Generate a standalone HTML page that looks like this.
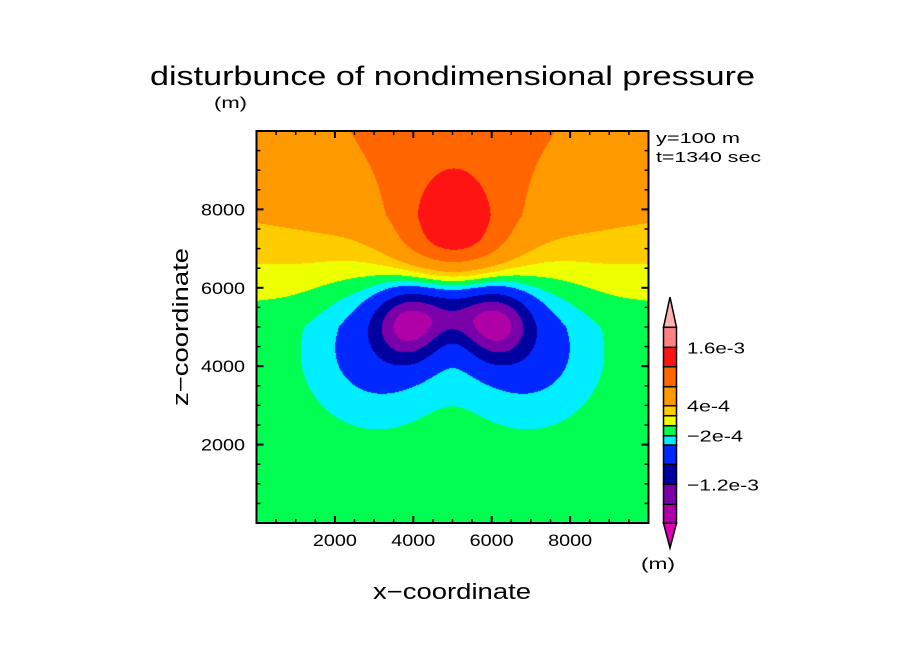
<!DOCTYPE html>
<html><head><meta charset="utf-8"><style>
html,body{margin:0;padding:0;background:#fff;}
#wrap{position:relative;width:904px;height:654px;overflow:hidden;background:#fff;}
canvas{position:absolute;left:0;top:0;}
svg{position:absolute;left:0;top:0;}
text{font-family:"Liberation Sans",sans-serif;fill:#000;}
</style></head><body>
<div id="wrap">
<canvas id="cv" width="904" height="654"></canvas>
<svg id="sv" width="904" height="654">
<text x="150" y="85" font-size="27" textLength="605" lengthAdjust="spacingAndGlyphs">disturbunce of nondimensional pressure</text>
<text x="214" y="108" font-size="16" textLength="33" lengthAdjust="spacingAndGlyphs">(m)</text>
<text x="656" y="143" font-size="15" textLength="84" lengthAdjust="spacingAndGlyphs">y=100 m</text>
<text x="656" y="162" font-size="15" textLength="105" lengthAdjust="spacingAndGlyphs">t=1340 sec</text>
<text x="373" y="599" font-size="22" textLength="158" lengthAdjust="spacingAndGlyphs">x−coordinate</text>
<text x="0" y="0" font-size="22" text-anchor="middle" textLength="158" lengthAdjust="spacingAndGlyphs" transform="translate(188,327) rotate(-90)">z−coordinate</text>
<text x="641" y="569" font-size="16" textLength="34" lengthAdjust="spacingAndGlyphs">(m)</text>
<g id="axes"></g>
<g id="cbar"></g>
</svg>
</div>
<script>
// Axis ticks (m)
const xTicks=[2000,4000,6000,8000];
const zTicks=[2000,4000,6000,8000];
// contour levels & colours
const levels=[-2e-3,-1.6e-3,-1.2e-3,-8e-4,-4e-4,-2e-4,0,2e-4,4e-4,8e-4,1.2e-3,1.6e-3,2e-3];
const colors=["#e000b8","#b000a8","#7a00aa","#0000a0","#0028ff","#00eeff","#00ff50","#eeff00","#ffcc00","#ff9900","#ff6600","#ff1414","#ff8080","#ffb0b0"];
const cbarLabels=["1.6e-3","4e-4","\u22122e-4","\u22121.2e-3"];
const cbarLabelVals=[1.6e-3,4e-4,-2e-4,-1.2e-3];
const cbarLabelW=[58,43,56,72];
// background vertical profile
const profZ=[0,5000,5700,6700,7850,10000];
const profV=[-1e-4,-1e-4,0,2e-4,4e-4,5e-4];
// anomaly components: centre x, centre z, sigma x, sigma z (above / below), amplitude
const compX=[5000,5050,3900,6100,3100,6900,5000];
const compZ=[11000,7300,5050,5050,4500,4500,5300];
const compSX=[2400,990,600,600,1150,1150,700];
const compSZup=[3000,1150,620,620,1400,1400,600];
const compSZdn=[3000,650,620,620,1200,1200,400];
const compA=[5.7e-4,9e-4,-1.35e-3,-1.35e-3,-5e-4,-5e-4,-6.5e-4];

const PL=256.5,PR=648.5,PT=131,PB=523;
const sx=x=>PL+(x/10000)*(PR-PL);
const sz=z=>PB-(z/10000)*(PB-PT);
function bg(z){for(let i=0;i<profZ.length-1;i++){if(z<=profZ[i+1]){const t=(z-profZ[i])/(profZ[i+1]-profZ[i]);return profV[i]+t*(profV[i+1]-profV[i]);}}return profV[profV.length-1];}
function field(x,z){let v=bg(z);for(let i=0;i<compA.length;i++){const dx=(x-compX[i])/compSX[i];const s=z>=compZ[i]?compSZup[i]:compSZdn[i];const dz=(z-compZ[i])/s;v+=compA[i]*Math.exp(-0.5*(dx*dx+dz*dz));}return v;}
function colorFor(v){let k=0;while(k<levels.length&&v>=levels[k])k++;return colors[k];}
function hex(c){return[parseInt(c.substr(1,2),16),parseInt(c.substr(3,2),16),parseInt(c.substr(5,2),16)];}
const cv=document.getElementById('cv'),ctx=cv.getContext('2d');
const x0=Math.round(PL),x1=Math.round(PR),y0=Math.round(PT),y1=Math.round(PB);
const img=ctx.createImageData(x1-x0,y1-y0);
for(let py=y0;py<y1;py++){for(let px=x0;px<x1;px++){
 const x=(px+0.5-PL)/(PR-PL)*10000,z=(PB-(py+0.5))/(PB-PT)*10000;
 const c=hex(colorFor(field(x,z)));const o=((py-y0)*(x1-x0)+(px-x0))*4;
 img.data[o]=c[0];img.data[o+1]=c[1];img.data[o+2]=c[2];img.data[o+3]=255;}}
ctx.putImageData(img,x0,y0);

const NS="http://www.w3.org/2000/svg";
const ax=document.getElementById('axes');
function mk(tag,attrs,parent){const e=document.createElementNS(NS,tag);for(const k in attrs)e.setAttribute(k,attrs[k]);parent.appendChild(e);return e;}
let fr=mk('rect',{x:PL,y:PT,width:PR-PL,height:PB-PT,fill:'none',stroke:'#000','stroke-width':2},ax);


for(let v=500;v<10000;v+=500){
 const major=v%2000===0,L=major?7:4;
 const X=sx(v),Z=sz(v);
 [[X,PB,X,PB-L],[X,PT,X,PT+L],[PL,Z,PL+L,Z],[PR,Z,PR-L,Z]].forEach(s=>{
  const t=mk('line',{x1:s[0],y1:s[1],x2:s[2],y2:s[3],stroke:'#000','stroke-width':major?2:1.5},ax);
  
  
 });
}
xTicks.forEach(v=>{const t=mk('text',{x:sx(v),y:546,'font-size':17,'text-anchor':'middle',textLength:44,lengthAdjust:'spacingAndGlyphs'},ax);t.textContent=v;
 
 });
zTicks.forEach(v=>{const t=mk('text',{x:201,y:sz(v)+6,'font-size':17,textLength:44,lengthAdjust:'spacingAndGlyphs'},ax);t.textContent=v;
 
 });

// colorbar
const cb=document.getElementById('cbar');
const cbY=[523.3,504.3,484.3,464.3,445,435.7,425.7,415.7,405.7,386.7,366.7,347.3,327.3];
const CX0=663.5,CX1=676.5;
for(let i=0;i<levels.length-1;i++){
 const r=mk('rect',{x:CX0,y:cbY[i+1],width:CX1-CX0,height:cbY[i]-cbY[i+1],fill:colors[i+1],stroke:'#000','stroke-width':1.5},cb);
 
 
}
let tb=mk('polygon',{points:`${CX0},${cbY[0]} ${CX1},${cbY[0]} ${(CX0+CX1)/2},548`,fill:colors[0],stroke:'#000','stroke-width':1.5},cb);


let tt=mk('polygon',{points:`${CX0},${cbY[12]} ${CX1},${cbY[12]} ${(CX0+CX1)/2},297`,fill:colors[13],stroke:'#000','stroke-width':1.5},cb);


cbarLabels.forEach((s,i)=>{const idx=levels.indexOf(cbarLabelVals[i]);
 const t=mk('text',{x:687,y:cbY[idx]+6,'font-size':16,textLength:cbarLabelW[i],lengthAdjust:'spacingAndGlyphs'},cb);t.textContent=s;
 
 });
</script>
</body></html>
